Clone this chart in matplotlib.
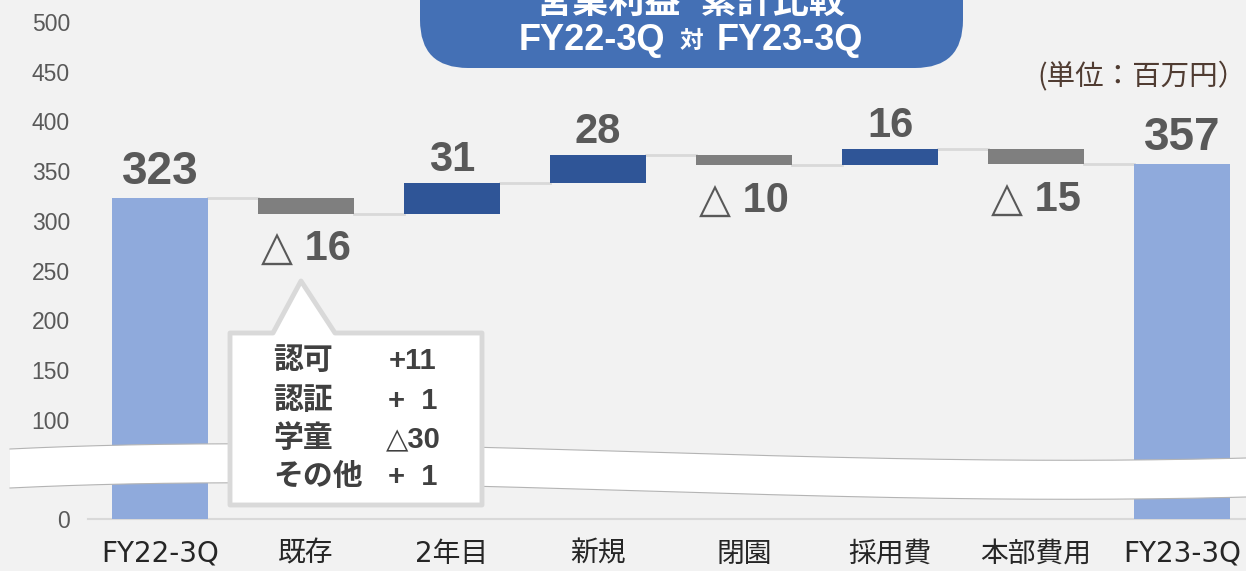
#Waterfall of cumulative operating profit FY22-3Q vs FY23-3Q
import numpy as np
import matplotlib
matplotlib.use('Agg')
import matplotlib.pyplot as plt
import matplotlib.transforms as mtransforms
from matplotlib.patches import FancyBboxPatch, Polygon

plt.rcParams['font.family'] = ['Liberation Sans', 'DejaVu Sans', 'Noto Sans CJK JP']

categories = ['FY22-3Q', '既存', '2年目', '新規', '閉園', '採用費', '本部費用', 'FY23-3Q']
start_total = 323
end_total = 357
deltas = [-16, 31, 28, -10, 16, -15]
yticks = [0, 50, 100, 150, 200, 250, 300, 350, 400, 450, 500]
callout_items = ['認可', '認証', '学童', 'その他']
callout_values = ['+11', '+  1', '△30', '+  1']
title_line1 = '営業利益  累計比較'
unit_label = '(単位：百万円）'

W, H = 1246, 571
bg = '#F2F2F2'
c_total = '#8FAADC'
c_up = '#2F5597'
c_down = '#7F7F7F'
c_lab = '#595959'

def fx(px):
    return px / W

def fy(py):
    return 1 - py / H

fig = plt.figure(figsize=(W / 100, H / 100), dpi=100, facecolor=bg)
pix = mtransforms.Affine2D().scale(1 / W, -1 / H).translate(0, 1) + fig.transFigure #pixels from top-left
ax = fig.add_axes([fx(88), fy(519), 1 - fx(88), fy(22) - fy(519)])
ax.set_facecolor(bg)

#bar bottoms / heights for waterfall
levels = [start_total]
for d in deltas:
    levels.append(levels[-1] + d)
bottoms = [0]
heights = [start_total]
colors = [c_total]
for i, d in enumerate(deltas):
    lo = min(levels[i], levels[i + 1])
    bottoms.append(lo)
    heights.append(abs(d))
    colors.append(c_up if d > 0 else c_down)
bottoms.append(0)
heights.append(end_total)
colors.append(c_total)

x = np.arange(len(categories))
bw = 0.66
ax.bar(x, heights, bottom=bottoms, width=bw, color=colors, zorder=3)

#connector lines
for i in range(len(categories) - 1):
    lvl = levels[i]
    ax.plot([x[i] + bw / 2, x[i + 1] - bw / 2], [lvl, lvl], color='#D9D9D9', lw=2, zorder=2)

#value labels
ax.annotate(str(start_total), (x[0], start_total), xytext=(0, 3), textcoords='offset points',
            ha='center', va='bottom', fontsize=33, fontweight='bold', color=c_lab)
ax.annotate(str(end_total), (x[-1], end_total), xytext=(0, 3), textcoords='offset points',
            ha='center', va='bottom', fontsize=33, fontweight='bold', color=c_lab)
for i, d in enumerate(deltas):
    xi = x[i + 1]
    if d > 0:
        ax.annotate(str(d), (xi, bottoms[i + 1] + heights[i + 1]), xytext=(0, 2),
                    textcoords='offset points', ha='center', va='bottom',
                    fontsize=30, fontweight='bold', color=c_lab)
    else:
        ax.annotate('△ ' + str(-d), (xi, bottoms[i + 1]), xytext=(0, -11),
                    textcoords='offset points', ha='center', va='top',
                    fontsize=30, fontweight='bold', color=c_lab)

ax.set_xlim(-0.493, 7.438)
ax.set_ylim(0, 500)
ax.set_yticks(yticks)
ax.set_xticks(x)
ax.set_xticklabels(categories, fontsize=20, color='#262626', family=['DejaVu Sans', 'Noto Sans CJK JP'])
ax.tick_params(axis='y', length=0, pad=13, labelsize=16.5, labelcolor=c_lab)
ax.tick_params(axis='x', length=0, pad=15)
for s in ['top', 'right', 'left']:
    ax.spines[s].set_visible(False)
ax.spines['bottom'].set_color('#D9D9D9')
ax.spines['bottom'].set_linewidth(1.5)

#wavy break band
t = np.linspace(0, 1, 200)
p0, p1, p2, p3 = np.array([10, 449]), np.array([400, 430]), np.array([800, 470]), np.array([1246, 458])
curve = ((1 - t) ** 3)[:, None] * p0 + (3 * (1 - t) ** 2 * t)[:, None] * p1 + \
        (3 * (1 - t) * t ** 2)[:, None] * p2 + (t ** 3)[:, None] * p3
top_edge = curve
bot_edge = curve + np.array([0, 39])
band = Polygon(np.vstack([top_edge, bot_edge[::-1]]), closed=True, facecolor='white',
               edgecolor='none', transform=pix, zorder=5, clip_on=False)
ax.add_patch(band)
for edge in (top_edge, bot_edge):
    ax.plot(edge[:, 0], edge[:, 1], color='#B4B4B4', lw=0.8, transform=pix,
            zorder=5, clip_on=False)

#callout box
pts = [(230, 333), (273, 333), (301, 281), (335, 333), (482, 333), (482, 505), (230, 505)]
callout = Polygon(pts, closed=True, facecolor='white', edgecolor='#D9D9D9', lw=3.5,
                  joinstyle='round', transform=pix, zorder=6, clip_on=False)
ax.add_patch(callout)
rows = [361, 401, 439, 477]
for name, val, ry in zip(callout_items, callout_values, rows):
    fig.text(fx(273), fy(ry), name, ha='left', va='center', fontsize=21.5, fontweight='bold',
             color='#404040', zorder=7)
    fig.text(fx(413), fy(ry), val, ha='center', va='center', fontsize=21, fontweight='bold',
             color='#404040', zorder=7)

#title pill
pill = FancyBboxPatch((420, -60), 543, 128, boxstyle='round,pad=0,rounding_size=48',
                      transform=pix, facecolor='#4470B5', edgecolor='none', zorder=8)
fig.patches.append(pill)
fig.text(fx(690), fy(3), title_line1, ha='center', va='center', fontsize=26, fontweight='bold',
         color='white', zorder=9)
fig.text(fx(665), fy(40), 'FY22-3Q', ha='right', va='center', fontsize=26, fontweight='bold',
         color='white', zorder=9)
fig.text(fx(691), fy(41), '対', ha='center', va='center', fontsize=17, fontweight='bold',
         color='white', zorder=9)
fig.text(fx(717), fy(40), 'FY23-3Q', ha='left', va='center', fontsize=26, fontweight='bold',
         color='white', zorder=9)

fig.text(fx(1246), fy(77), unit_label, ha='right', va='center', fontsize=20.5, color='#503C32',
         family=['Noto Sans CJK JP'])

fig.savefig('out.png', dpi=100, facecolor=bg)
